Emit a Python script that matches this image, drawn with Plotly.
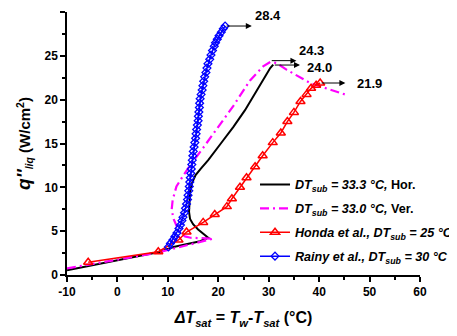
import plotly.graph_objects as go

# ---- data ----
hor_x = [-10, 0, 8.5, 11.1, 14.0, 16.4, 18.0, 17.0, 16.0, 15.0, 14.4, 14.2, 14.25, 14.4, 14.8, 15.5, 16.5, 18.0, 20.5, 23.0, 25.3, 27.3, 29.2, 30.3, 30.9]
hor_y = [0.55, 1.65, 2.65, 3.2, 3.55, 3.85, 4.25, 4.7, 5.2, 5.8, 6.4, 7.2, 8.2, 9.5, 10.5, 11.4, 12.1, 13.1, 15.0, 16.9, 18.8, 20.7, 22.5, 23.6, 24.0]

ver_x = [-10, 0, 8.0, 10.0, 13.0, 16.0, 19.0, 16.5, 14.5, 13.4, 12.1, 11.2, 10.75, 10.95, 11.7, 12.9, 14.5, 17.0, 20.0, 23.0, 26.3, 28.9, 30.3, 31.5, 33.6, 38.2, 45.1]
ver_y = [0.75, 1.75, 2.55, 2.85, 3.3, 3.75, 4.15, 4.2, 4.25, 4.4, 5.1, 6.3, 7.4, 8.55, 10.1, 11.2, 12.6, 14.5, 16.9, 19.3, 22.2, 23.8, 24.3, 24.2, 23.4, 21.9, 20.6]

honda_x = [-5.8, 8.1, 12.1, 13.7, 17.0, 19.3, 21.7, 22.7, 24.3, 25.6, 27.3, 28.8, 30.8, 32.4, 33.7, 35.0, 36.3, 37.5, 38.4, 39.4, 40.2]
honda_y = [1.45, 2.65, 4.0, 4.9, 6.0, 6.9, 7.8, 8.7, 10.0, 11.1, 12.35, 13.6, 15.1, 16.2, 17.5, 18.55, 19.8, 20.6, 21.3, 21.65, 21.9]

rainy_x = [10.1, 10.5, 11.0, 11.4, 11.8, 12.2, 12.5, 12.8, 13.0, 13.3, 13.5, 13.7, 13.9, 14.0, 14.15, 14.25, 14.35, 14.45,
           14.55, 14.65, 14.75, 14.85, 14.95, 15.05, 15.2, 15.35, 15.5, 15.6, 15.7, 15.85, 16.0, 16.05, 16.15, 16.25, 16.3,
           16.4, 16.6, 16.8, 16.95, 17.1, 17.3, 17.55, 17.75, 17.95, 18.3, 18.55, 18.85, 19.2, 19.45, 19.8, 20.15, 20.6, 21.0, 21.35]
rainy_y = [3.2, 3.6, 4.0, 4.4, 4.8, 5.3, 5.7, 6.2, 6.6, 7.1, 7.6, 8.1, 8.6, 9.1, 9.6, 10.1, 10.6, 11.1,
           11.6, 12.1, 12.6, 13.1, 13.6, 14.1, 14.6, 15.1, 15.6, 16.1, 16.6, 17.1, 17.6, 18.1, 18.6, 19.1, 19.6,
           20.1, 20.6, 21.1, 21.6, 22.1, 22.6, 23.1, 23.6, 24.1, 24.6, 25.1, 25.6, 26.1, 26.5, 26.9, 27.3, 27.7, 28.1, 28.4]

names = ["<i>DT<sub>sub</sub> = 33.3 °C,</i> Hor.",
         "<i>DT<sub>sub</sub> = 33.0 °C,</i> Ver.",
         "<i>Honda et al., DT<sub>sub</sub> = 25 °C</i>",
         "<i>Rainy et al., DT<sub>sub</sub> = 30 °C</i>"]

x_ticks = [-10, 0, 10, 20, 30, 40, 50, 60]
y_ticks = [0, 5, 10, 15, 20, 25, 30]

FONT = "Liberation Sans, Arial, sans-serif"

fig = go.Figure()
fig.add_trace(go.Scatter(x=hor_x, y=hor_y, mode="lines", name=names[0], legendgroup="g1",
                         line=dict(color="black", width=2)))
fig.add_trace(go.Scatter(x=ver_x, y=ver_y, mode="lines", name=names[1], legendgroup="g2",
                         line=dict(color="#FF00FF", width=2.2, dash="9px,4px,2px,4px")))
fig.add_trace(go.Scatter(x=honda_x, y=honda_y, mode="lines+markers", name=names[2], legendgroup="g3",
                         line=dict(color="red", width=1.5),
                         marker=dict(symbol="triangle-up-open", size=8, color="red", line=dict(width=1.5))))
fig.add_trace(go.Scatter(x=rainy_x, y=rainy_y, mode="lines+markers", name=names[3], legendgroup="g4",
                         line=dict(color="blue", width=1.5),
                         marker=dict(symbol="diamond-open", size=6, color="blue", line=dict(width=1.3))))

# arrows + labels at the end (peak) of each curve
def peak(xs, ys):
    i = max(range(len(ys)), key=lambda k: ys[k])
    return xs[i], ys[i]

ann = []
def arrow_label(xs, ys, label, dx_head, dy_arrow, dx_text, dy_text):
    px, py = peak(xs, ys)
    ya = py + dy_arrow
    ann.append(dict(x=px + dx_head, y=ya, ax=px, ay=ya, xref="x", yref="y", axref="x", ayref="y",
                    showarrow=True, arrowhead=2, arrowsize=1.2, arrowwidth=1, arrowcolor="black",
                    standoff=0, startstandoff=0, text=""))
    ann.append(dict(x=px + dx_text, y=py + dy_text, xref="x", yref="y", showarrow=False,
                    text="<b>%s</b>" % label, font=dict(family=FONT, size=13, color="black")))

arrow_label(rainy_x, rainy_y, "28.4", 5.3, 0.0, 8.5, 1.25)
arrow_label(ver_x, ver_y, "24.3", 5.2, 0.15, 8.1, 1.35)
arrow_label(hor_x, hor_y, "24.0", 5.3, -0.05, 9.1, -0.3)
arrow_label(honda_x, honda_y, "21.9", 5.0, 0.0, 9.7, 0.0)

# page body adds an 8px margin, so the figure is drawn 8px smaller
fig.update_layout(
    width=449, height=328,
    margin=dict(l=59, r=37, t=4, b=61, autoexpand=False),
    paper_bgcolor="white", plot_bgcolor="white",
    font=dict(family=FONT, color="black"),
    showlegend=True,
    legend=dict(xref="paper", yref="paper", x=0.5326, y=0.40, xanchor="left", yanchor="top",
                bgcolor="rgba(0,0,0,0)", traceorder="grouped",
                font=dict(family=FONT, size=12.6, color="black", weight="bold"),
                itemwidth=30, tracegroupgap=4.5),
    annotations=ann,
    xaxis=dict(range=[-10, 60], tickvals=x_ticks, ticktext=[str(v) for v in x_ticks], automargin=False,
               showgrid=False, zeroline=False, showline=True, linecolor="black", linewidth=1.5,
               ticks="outside", ticklen=5, tickwidth=1.5, tickcolor="black",
               tickfont=dict(family=FONT, size=12, weight="bold"),
               minor=dict(dtick=5, tick0=-5, ticks="outside", ticklen=3, tickwidth=1.5, tickcolor="black"),
               title=dict(text="<i>ΔT<sub>sat</sub></i> = <i>T<sub>w</sub></i>-<i>T<sub>sat</sub></i> (°C)",
                          font=dict(family=FONT, size=16, weight="bold"), standoff=14)),
    yaxis=dict(range=[0, 30], tickvals=y_ticks, ticktext=[str(v) for v in y_ticks], automargin=False,
               showgrid=False, zeroline=False, showline=True, linecolor="black", linewidth=1.5,
               ticks="outside", ticklen=5, tickwidth=1.5, tickcolor="black",
               tickfont=dict(family=FONT, size=12, weight="bold"),
               minor=dict(dtick=2.5, tick0=0, ticks="outside", ticklen=3, tickwidth=1.5, tickcolor="black"),
               title=dict(text="<i><span style='font-size:19px'>q''</span><sub>liq</sub></i> (W/cm<sup>2</sup>)",
                          font=dict(family=FONT, size=15, weight="bold"), standoff=10)),
)

fig.write_html("out.html")
